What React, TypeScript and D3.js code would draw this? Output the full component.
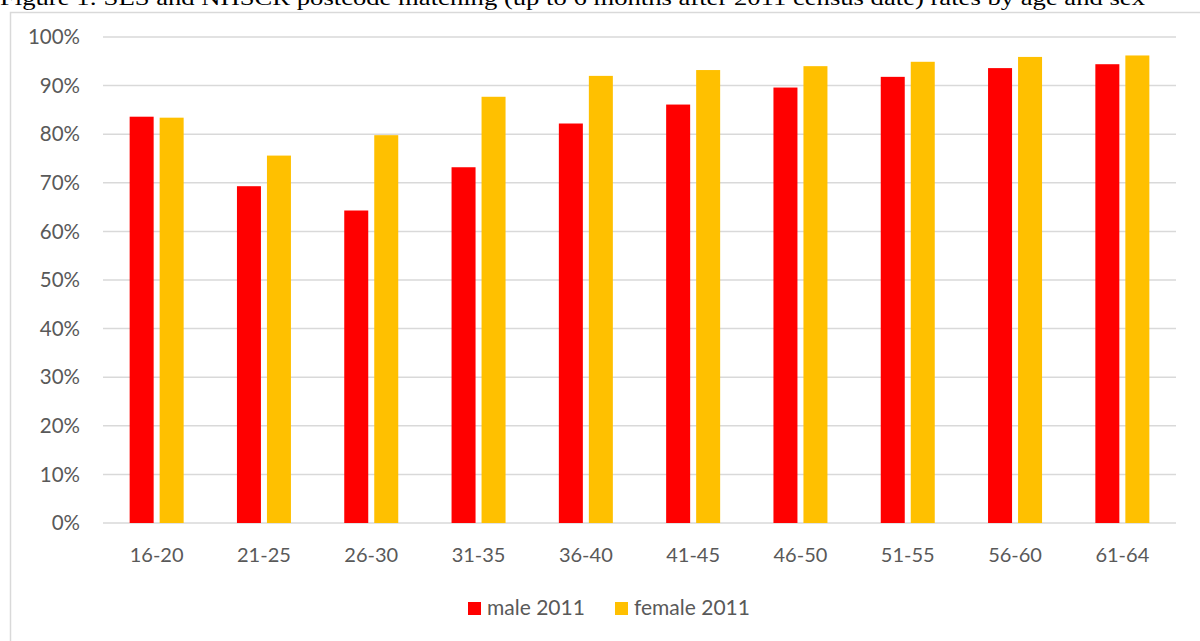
import React, { useEffect, useRef } from "react";
import * as d3 from "d3";

const ageGroups = ["16-20", "21-25", "26-30", "31-35", "36-40", "41-45", "46-50", "51-55", "56-60", "61-64"];
const male2011 = [83.6, 69.3, 64.3, 73.2, 82.2, 86.1, 89.6, 91.8, 93.6, 94.4];
const female2011 = [83.4, 75.6, 79.8, 87.7, 92.0, 93.2, 94.0, 94.9, 95.9, 96.2];
const yTicks = [0, 10, 20, 30, 40, 50, 60, 70, 80, 90, 100];
const seriesNames = ["male 2011", "female 2011"];
const seriesColors = ["#ff0000", "#ffc000"];

export default function App() {
  const ref = useRef<SVGSVGElement>(null);

  useEffect(() => {
    if (!ref.current) return;
    const W = 1200,
      H = 641;
    const svg = d3.select(ref.current);
    svg.selectAll("*").remove();

    // title, cut off at the top like the source document
    svg
      .append("text")
      .attr("x", 0)
      .attr("y", 5)
      .attr("textLength", 1145)
      .attr("lengthAdjust", "spacingAndGlyphs")
      .style("font-family", "'Liberation Serif', 'Times New Roman', serif")
      .style("font-size", "22px")
      .attr("fill", "#000")
      .text("Figure 1: SES and NHSCR postcode matching (up to 6 months after 2011 census date) rates by age and sex");

    // chart frame
    svg
      .append("rect")
      .attr("x", 10.5)
      .attr("y", 12.5)
      .attr("width", W)
      .attr("height", H)
      .attr("fill", "#fff")
      .attr("stroke", "#d9d9d9")
      .attr("stroke-width", 1.5);

    const margin = { left: 103, right: 24, top: 37, bottom: 118 };
    const x = d3
      .scaleBand<string>()
      .domain(ageGroups)
      .range([margin.left, W - margin.right]);
    const y = d3.scaleLinear().domain([0, 100]).range([H - margin.bottom, margin.top]);

    // gridlines
    svg
      .append("g")
      .selectAll("line")
      .data(yTicks)
      .enter()
      .append("line")
      .attr("x1", margin.left)
      .attr("x2", W - margin.right)
      .attr("y1", (d) => y(d))
      .attr("y2", (d) => y(d))
      .attr("stroke", "#d9d9d9")
      .attr("stroke-width", 1.5);

    const labelFont = "Lato, 'Open Sans', sans-serif";

    // y tick labels
    svg
      .append("g")
      .selectAll("text")
      .data(yTicks)
      .enter()
      .append("text")
      .attr("x", 80)
      .attr("y", (d) => y(d))
      .attr("dy", "0.35em")
      .attr("text-anchor", "end")
      .attr("fill", "#595959")
      .style("font-family", labelFont)
      .style("font-size", "20.5px")
      .text((d) => d + "%");

    // bars
    const barW = 24,
      gap = 6;
    const offsets = [-(barW + gap / 2), gap / 2];
    [male2011, female2011].forEach((vals, si) => {
      svg
        .append("g")
        .selectAll("rect")
        .data(vals)
        .enter()
        .append("rect")
        .attr("x", (d, i) => (x(ageGroups[i]) ?? 0) + x.bandwidth() / 2 + offsets[si])
        .attr("y", (d) => y(d))
        .attr("width", barW)
        .attr("height", (d) => y(0) - y(d))
        .attr("fill", seriesColors[si]);
    });

    // category labels
    svg
      .append("g")
      .selectAll("text")
      .data(ageGroups)
      .enter()
      .append("text")
      .attr("x", (d) => (x(d) ?? 0) + x.bandwidth() / 2)
      .attr("y", 555)
      .attr("dy", "0.35em")
      .attr("text-anchor", "middle")
      .attr("fill", "#595959")
      .style("font-family", labelFont)
      .style("font-size", "20px")
      .text((d) => d);

    // legend
    const legendX = [468, 615];
    seriesNames.forEach((name, i) => {
      const g = svg.append("g");
      g.append("rect")
        .attr("x", legendX[i])
        .attr("y", 602)
        .attr("width", 13)
        .attr("height", 13)
        .attr("fill", seriesColors[i]);
      g.append("text")
        .attr("x", legendX[i] + 19)
        .attr("y", 608)
        .attr("dy", "0.35em")
        .attr("fill", "#595959")
        .style("font-family", labelFont)
        .style("font-size", "21px")
        .text(name);
    });
  }, []);

  return (
    <div style={{ position: "fixed", left: 0, top: 0, width: 1200, height: 641, overflow: "hidden", background: "#fff" }}>
      <svg ref={ref} width={1200} height={641} style={{ display: "block" }} />
    </div>
  );
}
